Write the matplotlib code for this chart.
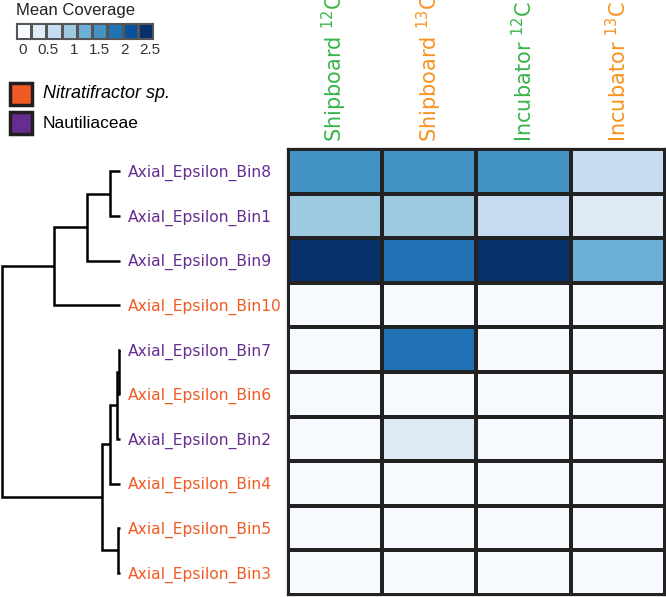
import matplotlib.pyplot as plt
import numpy as np
from matplotlib.colors import ListedColormap, BoundaryNorm
from matplotlib.patches import Rectangle

W, H = 666, 597

leaves = ["Axial_Epsilon_Bin8", "Axial_Epsilon_Bin1", "Axial_Epsilon_Bin9",
          "Axial_Epsilon_Bin10", "Axial_Epsilon_Bin7", "Axial_Epsilon_Bin6",
          "Axial_Epsilon_Bin2", "Axial_Epsilon_Bin4", "Axial_Epsilon_Bin5",
          "Axial_Epsilon_Bin3"]
taxon = ["naut", "naut", "naut", "nitr", "naut", "nitr", "naut", "nitr", "nitr", "nitr"]

# merges: (child a, child b, height), new node ids start at len(leaves)
merges = [(0, 1, 0.085), (10, 2, 0.28), (11, 3, 0.56),
          (4, 5, 0.005), (13, 6, 0.028), (14, 7, 0.085),
          (8, 9, 0.014), (15, 16, 0.155), (12, 17, 1.0)]

samples = ["Shipboard", "Shipboard", "Incubator", "Incubator"]
isotopes = ["12", "13", "12", "13"]

coverage = np.array([
    [1.50, 1.50, 1.50, 0.70],
    [0.95, 0.95, 0.70, 0.40],
    [2.35, 1.80, 2.35, 1.25],
    [0.00, 0.00, 0.00, 0.00],
    [0.00, 1.80, 0.00, 0.00],
    [0.00, 0.00, 0.00, 0.00],
    [0.00, 0.40, 0.00, 0.00],
    [0.00, 0.00, 0.00, 0.00],
    [0.00, 0.00, 0.00, 0.00],
    [0.00, 0.00, 0.00, 0.00],
])

cbar_ticks = [0, 0.5, 1, 1.5, 2, 2.5]
blues9 = ["#f7fbff", "#deebf7", "#c6dbef", "#9ecae1", "#6baed6",
          "#4292c6", "#2171b5", "#08519c", "#08306b"]
taxon_col = {"nitr": "#f15a24", "naut": "#662d91"}
iso_col = {"12": "#39b54a", "13": "#f7931e"}

cmap = ListedColormap(blues9)
norm = BoundaryNorm(np.linspace(0, 2.5, 10), cmap.N)

wide = ["DejaVu Sans"]
arial = ["Liberation Sans", "DejaVu Sans"]


def box(x0, y0, x1, y1):
    return [x0 / W, 1 - y1 / H, (x1 - x0) / W, (y1 - y0) / H]


fig = plt.figure(figsize=(W / 100, H / 100), dpi=100)

# heatmap
ax = fig.add_axes(box(287.5, 149, 665, 595))
ax.pcolormesh(coverage, cmap=cmap, norm=norm, edgecolors="#222222", linewidth=1.6)
ax.set_xlim(0, 4)
ax.set_ylim(10, 0)
ax.set_xticks([])
ax.set_yticks([])
for s in ax.spines.values():
    s.set_linewidth(1.6)
    s.set_color("#222222")

for j in range(4):
    ax.text(j + 0.5, -0.15, samples[j] + r" $\mathregular{^{" + isotopes[j] + "}}$C",
            rotation=90, ha="center", va="bottom", fontsize=15,
            color=iso_col[isotopes[j]], family=wide, clip_on=False)

# dendrogram
dx = fig.add_axes(box(0, 149, 287.5, 595))
dx.set_xlim(120 / 118, (120 - 287.5) / 118)
dx.set_ylim(10, 0)
dx.axis("off")
pos = {i: (0.0, i + 0.5) for i in range(len(leaves))}
for k, (a, b, h) in enumerate(merges):
    ha_, ya = pos[a]
    hb, yb = pos[b]
    dx.plot([ha_, h, h, hb], [ya, ya, yb, yb], color="black", lw=1.8,
            solid_joinstyle="miter", solid_capstyle="butt")
    pos[len(leaves) + k] = (h, (ya + yb) / 2)

for i, name in enumerate(leaves):
    dx.text(-8 / 118, i + 0.54, name, ha="left", va="center", fontsize=11.2,
            color=taxon_col[taxon[i]], family=wide)

# colour key
cx = fig.add_axes(box(16, 22.7, 153, 39.3))
edges = np.linspace(-0.138, 2.56, len(blues9) + 1)
cx.pcolormesh(edges, [0, 1], np.arange(len(blues9))[None, :], cmap=cmap,
              edgecolors="#555555", linewidth=0.8)
cx.set_xlim(edges[0], edges[-1])
cx.set_ylim(0, 1)
cx.set_yticks([])
cx.set_xticks(cbar_ticks)
cx.set_xticklabels([f"{t:g}" for t in cbar_ticks], family=arial, fontsize=11, color="#333333")
cx.tick_params(axis="x", length=0, pad=3)
for s in cx.spines.values():
    s.set_linewidth(0.8)
    s.set_color("#555555")
fig.text(16 / W, 1 - 10 / H, "Mean Coverage", ha="left", va="center",
         fontsize=12, family=arial, color="#222222")

# taxon legend
for y0, key, label, style, fs in [(82, "nitr", "Nitratifractor sp.", "italic", 13),
                                  (111, "naut", "Nautiliaceae", "normal", 12.5)]:
    fig.patches.append(Rectangle((10.5 / W, 1 - (y0 + 22.5) / H), 21.5 / W, 21.5 / H,
                                 transform=fig.transFigure, facecolor=taxon_col[key],
                                 edgecolor="#231f20", linewidth=2.5))
    fig.text(43 / W, 1 - (y0 + 12) / H, label, ha="left", va="center", fontsize=fs,
             family=arial, style=style, color="black")

fig.savefig("out.png", dpi=100)
